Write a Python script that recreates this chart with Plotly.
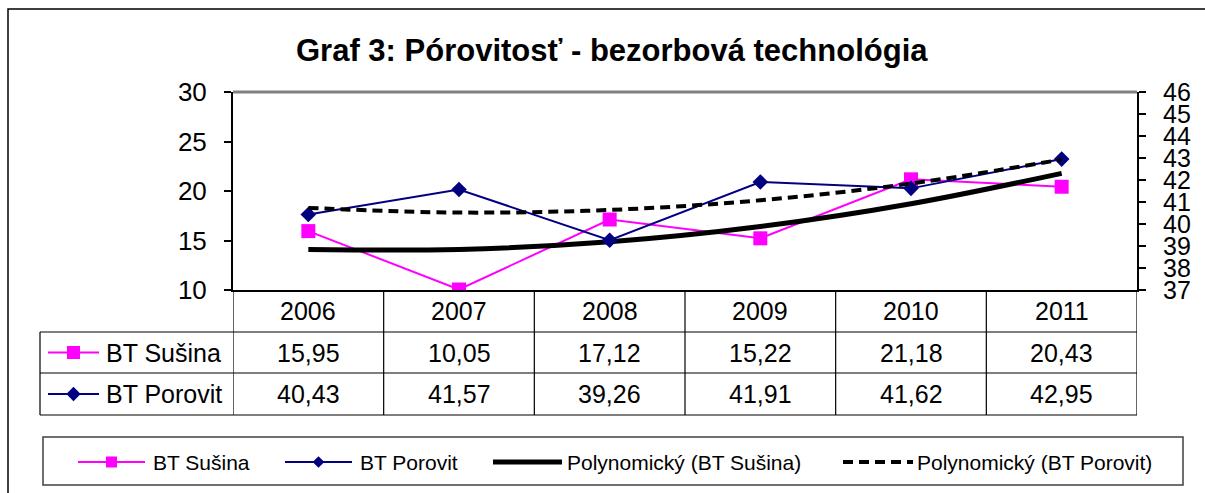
import plotly.graph_objects as go

# ---- data -------------------------------------------------------------
years = ["2006", "2007", "2008", "2009", "2010", "2011"]
susina = [15.95, 10.05, 17.12, 15.22, 21.18, 20.43]          # left axis
porovit = [40.43, 41.57, 39.26, 41.91, 41.62, 42.95]         # right axis
susina_trend = [14.08, 14.10, 14.87, 16.41, 18.71, 21.78]    # polynomial trend, left axis
porovit_trend = [40.73, 40.52, 40.64, 41.08, 41.84, 42.93]   # polynomial trend, right axis

series_names = ["BT Sušina", "BT Porovit"]
legend_names = ["BT Sušina", "BT Porovit", "Polynomický (BT Sušina)", "Polynomický (BT Porovit)"]
title_text = "Graf 3: Pórovitosť - bezorbová technológia"

# ---- layout constants (pixels) ---------------------------------------
W, H = 1205, 493
PL, PR, PT, PB = 233, 1137, 92, 290      # plot area
TABLE_L, ROW1_T, ROW2_T, TABLE_B = 40, 332, 373, 415
FONT = "Arial, Liberation Sans, sans-serif"
MAGENTA, NAVY = "#FF00FF", "#000080"

xi = list(range(1, len(years) + 1))

fig = go.Figure()

fig.add_trace(go.Scatter(
    x=xi, y=susina, name=series_names[0], mode="lines+markers",
    line=dict(color=MAGENTA, width=2),
    marker=dict(symbol="square", size=14, color=MAGENTA),
    xaxis="x", yaxis="y", showlegend=False))
fig.add_trace(go.Scatter(
    x=xi, y=porovit, name=series_names[1], mode="lines+markers",
    line=dict(color=NAVY, width=2),
    marker=dict(symbol="diamond", size=12, color=NAVY),
    xaxis="x", yaxis="y3", showlegend=False))
fig.add_trace(go.Scatter(
    x=xi, y=susina_trend, name=legend_names[2], mode="lines",
    line=dict(color="black", width=5, shape="spline"),
    xaxis="x", yaxis="y", showlegend=False))
fig.add_trace(go.Scatter(
    x=xi, y=porovit_trend, name=legend_names[3], mode="lines",
    line=dict(color="black", width=4, shape="spline", dash="10px,6px"),
    xaxis="x", yaxis="y3", showlegend=False))

# ---- keys in the data table and in the legend box (pixel overlay) ----
def key(x0, x1, y, color, width, dash=None, symbol=None, msize=0):
    fig.add_trace(go.Scatter(
        x=[x0, x1], y=[y, y], mode="lines",
        line=dict(color=color, width=width, dash=dash),
        xaxis="x2", yaxis="y2", showlegend=False, hoverinfo="skip"))
    if symbol:
        fig.add_trace(go.Scatter(
            x=[(x0 + x1) / 2], y=[y], mode="markers",
            marker=dict(symbol=symbol, size=msize, color=color),
            xaxis="x2", yaxis="y2", showlegend=False, hoverinfo="skip"))

row1_c = (ROW1_T + ROW2_T) / 2
row2_c = (ROW2_T + TABLE_B) / 2
head_c = (PB + ROW1_T) / 2
key(48, 99, row1_c, MAGENTA, 2, symbol="square", msize=13)
key(48, 99, row2_c, NAVY, 2, symbol="diamond", msize=11)

LEG_Y = 462
key(78, 145, LEG_Y, MAGENTA, 2, symbol="square", msize=11)
key(285, 352, LEG_Y, NAVY, 2, symbol="diamond", msize=9)
key(493, 562, LEG_Y, "black", 5)
key(843, 913, LEG_Y, "black", 4, dash="10px,6px")

# ---- axes -------------------------------------------------------------
xdom = [PL / W, PR / W]
ydom = [1 - PB / H, 1 - PT / H]
tickfont = dict(family=FONT, size=26, color="black")

fig.update_layout(
    width=W, height=H,
    margin=dict(l=0, r=0, t=0, b=0, autoexpand=False),
    paper_bgcolor="white", plot_bgcolor="rgba(0,0,0,0)",
    showlegend=False,
    xaxis=dict(domain=xdom, range=[0.5, len(years) + 0.5], showticklabels=False,
               showgrid=False, zeroline=False, showline=True, linecolor="black",
               linewidth=2, ticks="", anchor="y", fixedrange=True, automargin=False),
    yaxis=dict(domain=ydom, range=[10, 30], dtick=5, showgrid=False, zeroline=False,
               showline=True, linecolor="black", linewidth=2, ticks="outside",
               ticklen=7, tickwidth=1.5, tickcolor="black", tickfont=tickfont,
               ticklabelstandoff=12, anchor="x", fixedrange=True, automargin=False),
    yaxis3=dict(range=[37, 46], dtick=1, overlaying="y", side="right", anchor="x",
                showgrid=False, zeroline=False, showline=True, linecolor="black",
                linewidth=2, ticks="outside", ticklen=7, tickwidth=1.5,
                tickcolor="black", tickfont=dict(family=FONT, size=25, color="black"),
                ticklabelstandoff=12, fixedrange=True, automargin=False),
    # inner halves of the crossing tick marks
    yaxis4=dict(range=[10, 30], dtick=5, overlaying="y", side="left", anchor="x",
                showgrid=False, zeroline=False, showline=False, showticklabels=False,
                ticks="inside", ticklen=6, tickwidth=1.5, tickcolor="black",
                automargin=False),
    yaxis5=dict(range=[37, 46], dtick=1, overlaying="y", side="right", anchor="x",
                showgrid=False, zeroline=False, showline=False, showticklabels=False,
                ticks="inside", ticklen=6, tickwidth=1.5, tickcolor="black",
                automargin=False),
    # pixel overlay for table, legend box and frame
    xaxis2=dict(domain=[0, 1], range=[0, W], visible=False, anchor="y2",
                fixedrange=True, automargin=False),
    yaxis2=dict(domain=[0, 1], range=[H, 0], visible=False, anchor="x2",
                fixedrange=True, automargin=False),
)

shapes = []
# outer chart frame
shapes.append(dict(type="rect", xref="x2", yref="y2", x0=8, y0=9, x1=W + 10, y1=H + 10,
                   line=dict(color="black", width=1.5)))
# grey top border of plot area
shapes.append(dict(type="line", xref="x2", yref="y2", x0=PL, x1=PR, y0=PT, y1=PT,
                   line=dict(color="#808080", width=3)))
# data table: vertical column lines from the category axis
for k in range(len(years) + 1):
    shapes.append(dict(type="line", xref="x", yref="y2", x0=k + 0.5, x1=k + 0.5,
                       y0=PB, y1=TABLE_B, line=dict(color="black", width=1.2)))
shapes.append(dict(type="line", xref="x2", yref="y2", x0=TABLE_L, x1=TABLE_L,
                   y0=ROW1_T, y1=TABLE_B, line=dict(color="black", width=1.2)))
for yy in (ROW1_T, ROW2_T, TABLE_B):
    shapes.append(dict(type="line", xref="x2", yref="y2", x0=TABLE_L, x1=PR,
                       y0=yy, y1=yy, line=dict(color="black", width=1.2)))
# legend box
shapes.append(dict(type="rect", xref="x2", yref="y2", x0=43, y0=437, x1=1183, y1=485,
                   line=dict(color="#404040", width=1.5)))
fig.update_layout(shapes=shapes)

ann = []
ann.append(dict(text=f"<b>{title_text}</b>", xref="x2", yref="y2", x=612, y=50,
                showarrow=False, font=dict(family=FONT, size=31, color="black")))
cell_font = dict(family=FONT, size=25, color="black")


def fmt(v):
    return f"{v:.2f}".replace(".", ",")


for i, yr in enumerate(years):
    ann.append(dict(text=yr, xref="x", yref="y2", x=xi[i], y=head_c,
                    showarrow=False, font=cell_font))
    ann.append(dict(text=fmt(susina[i]), xref="x", yref="y2", x=xi[i], y=row1_c,
                    showarrow=False, font=cell_font))
    ann.append(dict(text=fmt(porovit[i]), xref="x", yref="y2", x=xi[i], y=row2_c,
                    showarrow=False, font=cell_font))
for name, yy in zip(series_names, (row1_c, row2_c)):
    ann.append(dict(text=name, xref="x2", yref="y2", x=104, y=yy, xanchor="left",
                    showarrow=False, font=cell_font))
leg_font = dict(family=FONT, size=21, color="black")
for name, xx in zip(legend_names, (151, 358, 565, 915)):
    ann.append(dict(text=name, xref="x2", yref="y2", x=xx, y=LEG_Y, xanchor="left",
                    showarrow=False, font=leg_font))
fig.update_layout(annotations=ann)

fig.write_html("out.html")
